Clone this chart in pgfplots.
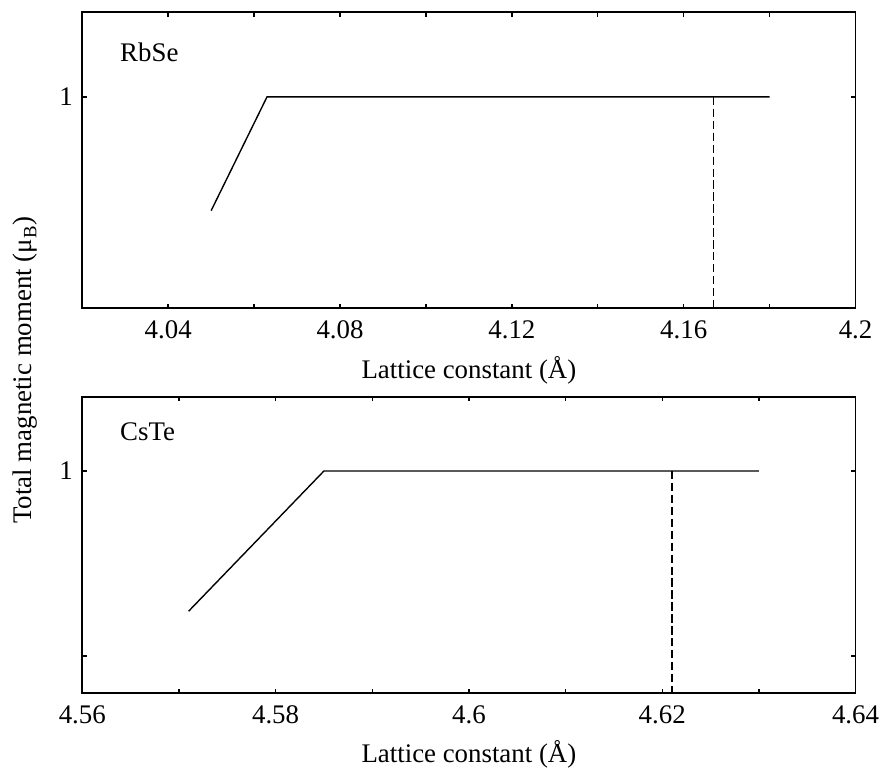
\documentclass[border=0pt]{standalone}
\usepackage{fontspec}
\setmainfont{Liberation Serif}
\usepackage{pgfplots}
\pgfplotsset{compat=1.18}
\begin{document}
\fontsize{13.5pt}{16pt}\selectfont
\begin{tikzpicture}
\pgfplotsset{
  every axis/.append style={
    scale only axis, width=388.7pt, height=148.8pt,
    axis line style={line width=0.9pt},
    tick style={black, line width=0.7pt},
    major tick length=2.2pt,
    tick align=inside,
    xlabel={Lattice constant (Å)},
    xlabel style={yshift=0.5pt},
    xticklabel style={yshift=-1.5pt},
    tick label style={font=\fontsize{13.5pt}{16pt}\selectfont},
    label style={font=\fontsize{13.5pt}{16pt}\selectfont},
    /pgf/number format/assume math mode=true,
  }
}
\path (-41.35pt,155pt) rectangle (402.65pt,-232.5pt);
% top panel
\begin{axis}[
  at={(0,0)}, anchor=south west,
  xmin=4.02, xmax=4.2, ymin=0, ymax=1.4,
  xtick={4.04,4.06,4.08,4.1,4.12,4.14,4.16,4.18,4.2},
  xticklabels={4.04,,4.08,,4.12,,4.16,,4.2},
  ytick={0,1}, yticklabels={,1},
]
\addplot[black, line width=0.7pt] coordinates {(4.05,0.462) (4.063,1) (4.18,1)};
\addplot[black, line width=0.7pt, dash pattern=on 4.2pt off 1.8pt] coordinates {(4.167,1) (4.167,0)};
\node[anchor=base west] at (rel axis cs:0.037,0.834) {RbSe};
\end{axis}
% bottom panel
\begin{axis}[
  at={(0,-193.35pt)}, anchor=south west,
  xmin=4.56, xmax=4.64, ymin=-0.2, ymax=1.4,
  xtick={4.56,4.57,4.58,4.59,4.6,4.61,4.62,4.63,4.64},
  xticklabels={4.56,,4.58,,4.6,,4.62,,4.64},
  ytick={0,1}, yticklabels={,1},
]
\addplot[black, line width=0.7pt] coordinates {(4.571,0.242) (4.585,1) (4.63,1)};
\addplot[black, line width=0.7pt, dash pattern=on 4.2pt off 1.8pt] coordinates {(4.621,1) (4.621,-0.2)};
\node[anchor=base west] at (rel axis cs:0.037,0.852) {CsTe};
\end{axis}
\node[rotate=90] at (-28.5pt,-31pt) {Total magnetic moment (μ\textsubscript{B})};
\end{tikzpicture}
\end{document}
